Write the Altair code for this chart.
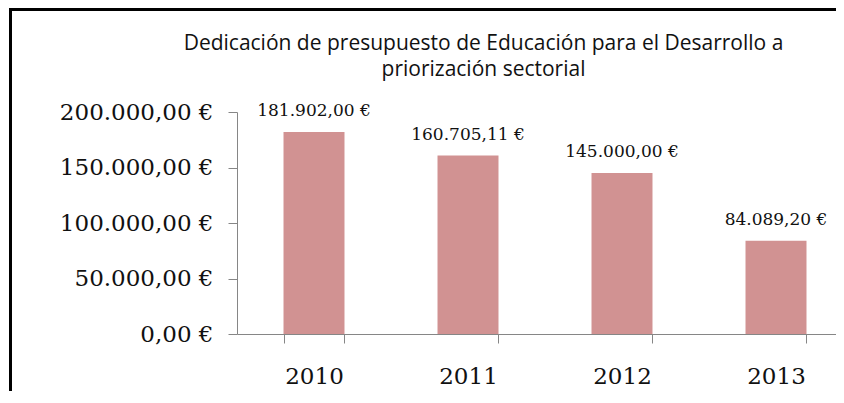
import altair as alt
import pandas as pd

years = ["2010", "2011", "2012", "2013"]
amounts = [181902.00, 160705.11, 145000.00, 84089.20]
y_ticks = [0, 50000, 100000, 150000, 200000]
title_lines = ["Dedicación de presupuesto de Educación para el Desarrollo a",
               "priorización sectorial"]


def es_eur(v):
    s = f"{v:,.2f}"
    s = s.replace(",", "_").replace(".", ",").replace("_", ".")
    return s + " €"


df = pd.DataFrame({"year": years, "amount": amounts,
                   "label": [es_eur(v) for v in amounts]})

x_enc = alt.X("year:N", sort=years,
              scale=alt.Scale(range=[0, 616], paddingInner=0.604, paddingOuter=0.302),
              axis=alt.Axis(title=None, labelAngle=0, tickBand="extent",
                            labelFont="DejaVu Serif", labelFontSize=23,
                            labelColor="#111111", labelPadding=22,
                            tickSize=9, tickColor="#868686",
                            domainColor="#868686"))
y_enc = alt.Y("amount:Q",
              scale=alt.Scale(domain=[0, 200000], nice=False),
              axis=alt.Axis(title=None, values=y_ticks, format=",.2f",
                            labelExpr="datum.label + ' €'",
                            labelFont="DejaVu Serif", labelFontSize=23,
                            labelColor="#111111", labelPadding=15,
                            tickSize=9, tickColor="#868686",
                            domainColor="#868686", grid=False))

bars = alt.Chart(df).mark_bar(color="#D19292").encode(x=x_enc, y=y_enc)

labels = alt.Chart(df).mark_text(font="DejaVu Serif", fontSize=17,
                                 color="#111111", baseline="alphabetic",
                                 dy=-16).encode(
    x=alt.X("year:N", sort=years), y=alt.Y("amount:Q"), text="label:N")

frame_df = pd.DataFrame({"k": [0]})
left_border = alt.Chart(frame_df).mark_rule(color="black", strokeWidth=3).encode(
    x=alt.value(-226.5), y=alt.value(-103), y2=alt.value(290))
top_border = alt.Chart(frame_df).mark_rule(color="black", strokeWidth=3).encode(
    x=alt.value(-228), x2=alt.value(610), y=alt.value(-102.5))

chart = alt.layer(bars, labels, left_border, top_border).properties(
    width=599, height=222,
    autosize=alt.AutoSizeParams(type="none"),
    padding={"left": 229, "top": 104, "right": 0, "bottom": 57},
    title=alt.TitleParams(text=title_lines, font="Open Sans", fontSize=21,
                          fontWeight="normal", color="#111111",
                          anchor="middle", frame="group", dx=-53,
                          offset=0, dy=93.5, baseline="bottom",
                          lineHeight=26.5),
).configure(
    view=alt.ViewConfig(stroke=None),
    locale={"number": {"decimal": ",", "thousands": ".", "grouping": [3],
                       "currency": ["", " €"]}})

chart.save("out.html", embed_options={"renderer": "svg", "actions": False})
